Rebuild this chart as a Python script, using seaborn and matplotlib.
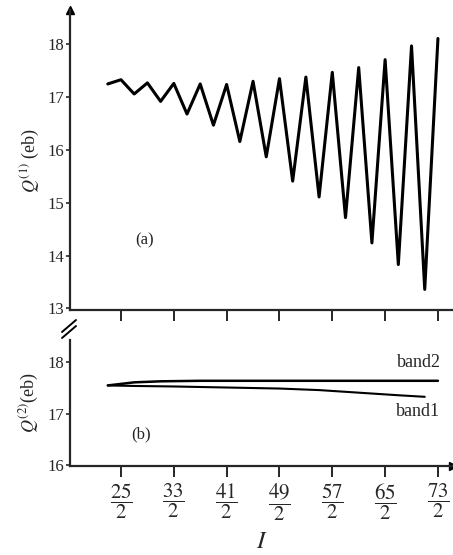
import numpy as np
import pandas as pd
import matplotlib
matplotlib.use("Agg")
import matplotlib.pyplot as plt
import seaborn as sns

# spin values (I) and quadrupole moments
spin_a = [11.5, 12.5, 13.5, 14.5, 15.5, 16.5, 17.5, 18.5, 19.5, 20.5, 21.5, 22.5, 23.5,
          24.5, 25.5, 26.5, 27.5, 28.5, 29.5, 30.5, 31.5, 32.5, 33.5, 34.5, 35.5, 36.5]
q1_a = [17.25, 17.33, 17.06, 17.27, 16.92, 17.26, 16.68, 17.25, 16.47, 17.24, 16.16, 17.30, 15.87,
        17.35, 15.41, 17.38, 15.11, 17.47, 14.72, 17.56, 14.24, 17.71, 13.83, 17.97, 13.36, 18.11]

spin_band2 = [11.5, 12.5, 13.5, 15.5, 18.5, 22.5, 26.5, 30.5, 34.5, 36.5]
q2_band2 = [17.55, 17.58, 17.61, 17.63, 17.64, 17.64, 17.64, 17.64, 17.64, 17.64]
spin_band1 = [11.5, 13.5, 16.5, 20.5, 24.5, 27.5, 30.5, 33.5, 35.5]
q2_band1 = [17.55, 17.54, 17.53, 17.51, 17.49, 17.46, 17.41, 17.36, 17.33]

tick_spins = [12.5, 16.5, 20.5, 24.5, 28.5, 32.5, 36.5]
tick_labels = [r"$\dfrac{25}{2}$", r"$\dfrac{33}{2}$", r"$\dfrac{41}{2}$", r"$\dfrac{49}{2}$",
               r"$\dfrac{57}{2}$", r"$\dfrac{65}{2}$", r"$\dfrac{73}{2}$"]

sns.set_style("ticks")
plt.rcParams['font.family'] = ['Liberation Serif', 'DejaVu Serif']
plt.rcParams['mathtext.fontset'] = 'stix'

W, H = 453, 555
fig = plt.figure(figsize=(W / 100, H / 100), dpi=100)
ax1 = fig.add_axes([70 / W, 1 - 310 / H, 383 / W, 300 / H])
ax2 = fig.add_axes([70 / W, 1 - 466 / H, 383 / W, 126 / H])

df_a = pd.DataFrame({"I": spin_a, "Q": q1_a})
sns.lineplot(data=df_a, x="I", y="Q", ax=ax1, color="black", lw=2.2, sort=False)

df_b2 = pd.DataFrame({"I": spin_band2, "Q": q2_band2})
df_b1 = pd.DataFrame({"I": spin_band1, "Q": q2_band1})
sns.lineplot(data=df_b2, x="I", y="Q", ax=ax2, color="black", lw=1.8)
sns.lineplot(data=df_b1, x="I", y="Q", ax=ax2, color="black", lw=1.5)

xlim = (8.64, 37.64)
for ax in (ax1, ax2):
    ax.set_xlim(*xlim)
    sns.despine(ax=ax)
    ax.spines['left'].set_linewidth(1.6)
    ax.spines['bottom'].set_linewidth(1.6)
    ax.set_xticks(tick_spins)
    ax.tick_params(axis='x', direction='out', length=8, width=1.4)
    ax.tick_params(axis='y', direction='out', length=3, width=1.2, labelsize=12, pad=1)
    ax.set_xlabel("")
    ax.set_ylabel("")
    ax.set_facecolor("none")

ax1.set_ylim(12.97, 18.65)
ax1.set_yticks([13, 14, 15, 16, 17, 18])
ax1.set_xticklabels([])
ax1.plot([0], [1], marker="^", color="black", ms=6, transform=ax1.transAxes, clip_on=False)
ax1.set_ylabel(r"$Q^{(1)}$ (eb)", fontsize=13, labelpad=5)
ax1.text(0.17, 0.22, "(a)", transform=ax1.transAxes, fontsize=12)

ax2.set_ylim(15.99, 18.43)
ax2.set_yticks([16, 17, 18])
ax2.set_xticklabels(tick_labels, fontsize=15)
ax2.tick_params(axis='x', pad=3)
ax2.plot([1], [0], marker=">", color="black", ms=6, transform=ax2.transAxes, clip_on=False)
ax2.set_ylabel(r"$Q^{(2)}$(eb)", fontsize=13, labelpad=5)
ax2.set_xlabel(r"$I$", fontsize=18, labelpad=6)
ax2.text(0.16, 0.22, "(b)", transform=ax2.transAxes, fontsize=12)
ax2.text(33.4, 17.9, "band2", fontsize=13)
ax2.text(33.3, 16.95, "band1", fontsize=13)

# axis break marks between the panels
for dy in (0, 6):
    fig.lines.append(plt.Line2D([62 / W, 76 / W], [1 - (338 - dy) / H, 1 - (326 - dy) / H],
                                transform=fig.transFigure, color="black", lw=1.4))

fig.savefig("out.png", dpi=100)
